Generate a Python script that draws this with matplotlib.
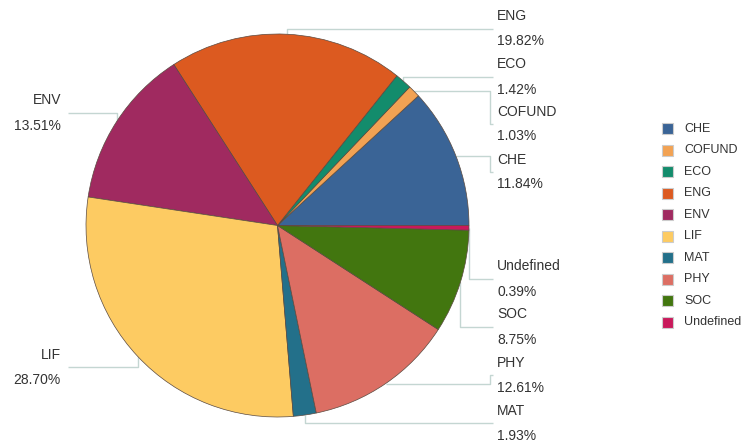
import numpy as np
import matplotlib
matplotlib.use("Agg")
import matplotlib.pyplot as plt
from matplotlib.patches import Rectangle

# ---- data ----
categories = ["CHE", "COFUND", "ECO", "ENG", "ENV", "LIF", "MAT", "PHY", "SOC", "Undefined"]
shares = [11.84, 1.03, 1.42, 19.82, 13.51, 28.70, 1.93, 12.61, 8.75, 0.39]
colors = ["#3a6496", "#f2a253", "#138c6c", "#dc5a20", "#a02a60",
          "#fdcb62", "#23708a", "#dc6e63", "#42760f", "#c9195b"]

# ---- layout (pixel space, y up) ----
W, H = 743, 444
cx, cy, R = 277.5, H - 225.5, 191.5

# label layout: (side, line y in px from top, elbow mode)
label_layout = {
    "CHE": ("r", 172, "h"),
    "COFUND": ("r", 124, "h"),
    "ECO": ("r", 77, "v"),
    "ENG": ("r", 29, "v"),
    "ENV": ("l", 113, "v"),
    "LIF": ("l", 367, "v"),
    "MAT": ("r", 423, "v"),
    "PHY": ("r", 375, "h"),
    "SOC": ("r", 327, "v"),
    "Undefined": ("r", 279, "v"),
}
right_elbow_x = 490
right_line_end = 493
right_text_x = 497
left_line_end = 68
left_text_x = 61

plt.rcParams['font.family'] = ['Liberation Sans', 'DejaVu Sans']

fig = plt.figure(figsize=(W / 100, H / 100), dpi=100)
ax = fig.add_axes([0, 0, 1, 1])
ax.set_xlim(0, W)
ax.set_ylim(0, H)
ax.set_aspect('equal')
ax.axis('off')

wedges, _ = ax.pie(shares, colors=colors, startangle=0, counterclock=True,
                   center=(cx, cy), radius=R, frame=True,
                   wedgeprops=dict(edgecolor='#5a4a40', linewidth=0.5))
ax.set_xlim(0, W)
ax.set_ylim(0, H)
ax.axis('off')

line_col = '#c4d6d2'
txt_col = '#333333'
for w, cat, val in zip(wedges, categories, shares):
    ang = np.deg2rad((w.theta1 + w.theta2) / 2)
    ax_x = cx + R * np.cos(ang)
    ax_y = cy + R * np.sin(ang)
    side, ly_px, mode = label_layout[cat]
    ly = H - ly_px
    if side == "r":
        end_x = right_line_end
        ex = right_elbow_x if mode == "h" else ax_x
    else:
        end_x = left_line_end
        ex = ax_x
    if mode == "h":
        xs = [ax_x, ex, ex, end_x]
        ys = [ax_y, ax_y, ly, ly]
    else:
        xs = [ax_x, ax_x, end_x]
        ys = [ax_y, ly, ly]
    ax.plot(xs, ys, color=line_col, lw=1.0, solid_capstyle='butt', zorder=0)
    if side == "r":
        tx, ha = right_text_x, 'left'
    else:
        tx, ha = left_text_x, 'right'
    ax.text(tx, ly + 12.5, cat, ha=ha, va='center', fontsize=10, color=txt_col)
    ax.text(tx, ly - 12.5, f"{val:.2f}%", ha=ha, va='center', fontsize=10, color=txt_col)

# legend
leg_x, leg_y0, leg_dy, sq = 662, 128.5, 21.55, 11
for i, (cat, col) in enumerate(zip(categories, colors)):
    yc = H - (leg_y0 + i * leg_dy)
    ax.add_patch(Rectangle((leg_x, yc - sq / 2), sq, sq, facecolor=col,
                           edgecolor='#cccccc', linewidth=0.8))
    ax.text(leg_x + 22, yc, cat, ha='left', va='center', fontsize=9, color=txt_col)

fig.savefig("out.png", dpi=100)
